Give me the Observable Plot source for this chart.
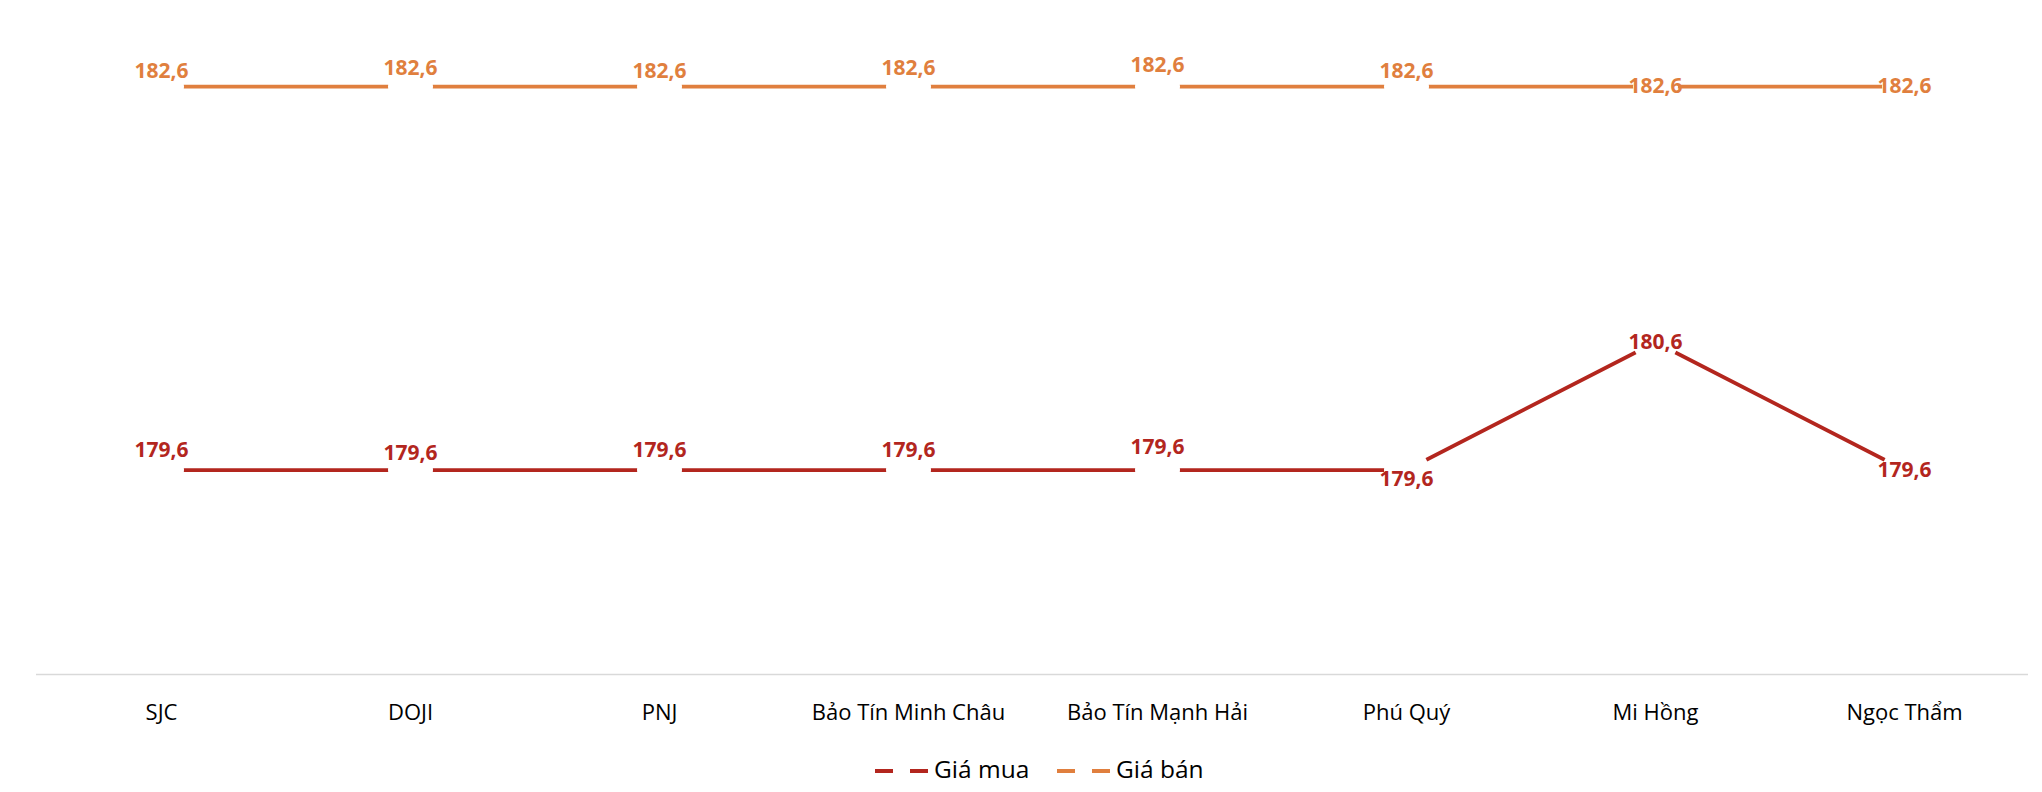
<!DOCTYPE html>
<html>
<head>
<meta charset="utf-8">
<script src="https://cdn.jsdelivr.net/npm/d3@7"></script>
<script src="https://cdn.jsdelivr.net/npm/@observablehq/plot@0.6"></script>
<style>
  html, body { margin: 0; padding: 0; background: #fff; }
  body { width: 2042px; font-family: "Open Sans", "Liberation Sans", sans-serif; }
  #legend { position: relative; height: 52px; width: 2042px; }
  .item { position: absolute; top: 0; height: 52px; }
  .item span { font-size: 24.5px; color: #000; line-height: 1; position: absolute; top: 17px; white-space: nowrap; }
</style>
</head>
<body>
<div id="chart"></div>
<div id="legend"></div>
<script>
// ---- data ----
const categories = ["SJC", "DOJI", "PNJ", "Bảo Tín Minh Châu", "Bảo Tín Mạnh Hải", "Phú Quý", "Mi Hồng", "Ngọc Thẩm"];
const giaMua = [179.6, 179.6, 179.6, 179.6, 179.6, 179.6, 180.6, 179.6];
const giaBan = [182.6, 182.6, 182.6, 182.6, 182.6, 182.6, 182.6, 182.6];
const seriesNames = ["Giá mua", "Giá bán"];

// ---- presentation ----
const colors = {"Giá mua": "#B3261E", "Giá bán": "#E07F3E"};
const labelDy = {
  "Giá bán": [-15, -18, -15, -18, -21, -15, 0, 0],
  "Giá mua": [-20, -17, -20, -20, -23, 9, 0, 0]
};

const rows = [];
categories.forEach((c, i) => {
  rows.push({cat: c, series: "Giá mua", value: giaMua[i], i});
  rows.push({cat: c, series: "Giá bán", value: giaBan[i], i});
});
const fmt = v => v.toFixed(1).replace(".", ",");

const labelMarks = rows.map(r => Plot.text([r], {
  x: "cat", y: "value", text: d => fmt(d.value),
  fill: colors[r.series], fontWeight: "bold", fontSize: 21,
  dy: labelDy[r.series][r.i]
}));

const chart = Plot.plot({
  width: 2042,
  height: 740,
  marginTop: 35,
  marginBottom: 66,
  marginLeft: 36,
  marginRight: 14,
  style: {fontFamily: "'Open Sans', 'Liberation Sans', sans-serif", fontSize: "22px", background: "#fff", overflow: "visible"},
  x: {type: "point", domain: categories, padding: 0.5, label: null},
  y: {domain: [178, 183], axis: null},
  marks: [
    Plot.ruleY([178], {stroke: "#d9d9d9", strokeWidth: 1.3}),
    Plot.line(rows.filter(d => d.series === "Giá bán"), {x: "cat", y: "value", stroke: colors["Giá bán"], strokeWidth: 3.75}),
    Plot.line(rows.filter(d => d.series === "Giá mua"), {x: "cat", y: "value", stroke: colors["Giá mua"], strokeWidth: 3.75}),
    Plot.dot(rows, {x: "cat", y: "value", r: 22.5, fill: "white", stroke: null}),
    ...labelMarks,
    Plot.axisX({tickSize: 0, tickPadding: 30, fontSize: 22, fill: "#000", label: null})
  ]
});
document.getElementById("chart").appendChild(chart);

// ---- legend ----
const legend = document.getElementById("legend");
const legendX = [875, 1057];
seriesNames.forEach((name, k) => {
  const item = document.createElement("div");
  item.className = "item";
  item.style.left = legendX[k] + "px";
  item.innerHTML = `<svg width="54" height="52" style="display:block"><line x1="0" x2="54" y1="31" y2="31" stroke="${colors[name]}" stroke-width="4" stroke-dasharray="18 17"/></svg><span style="left:59px">${name}</span>`;
  legend.appendChild(item);
});
</script>
</body>
</html>
